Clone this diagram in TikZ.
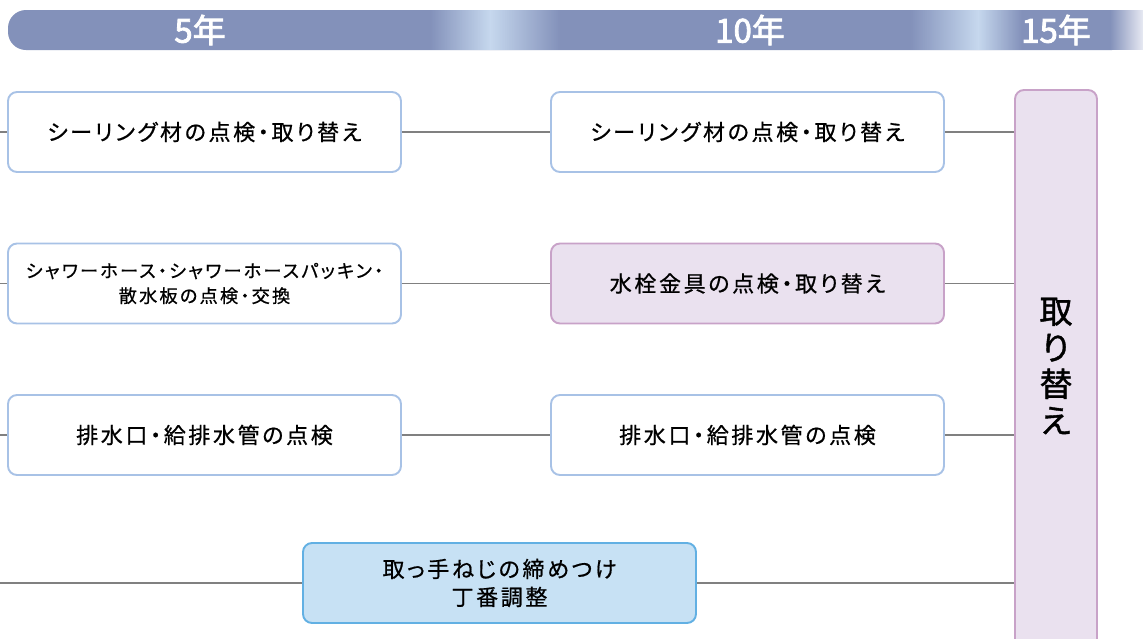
\documentclass[tikz,border=0pt]{standalone}
\usepackage{fontspec}
\setmainfont{Noto Sans CJK JP}[RawFeature=+palt, LetterSpace=12, FakeBold=0.7]
\newfontfamily\jphead{Noto Sans CJK JP}[FakeBold=2.5]
\newfontfamily\jpbig{Noto Sans CJK JP}[FakeBold=1.2]
\definecolor{barc}{HTML}{8391BA}
\definecolor{barl}{HTML}{C6D8EE}
\definecolor{barw}{HTML}{E8EAF3}
\definecolor{bluebd}{HTML}{A8C2E6}
\definecolor{purbd}{HTML}{C8A2C8}
\definecolor{purfill}{HTML}{EAE1EF}
\definecolor{skyfill}{HTML}{C7E1F4}
\definecolor{skybd}{HTML}{62B0E3}
\definecolor{linec}{HTML}{808080}
\tikzset{
  box/.style={draw=bluebd, fill=white, line width=1.9pt, rounded corners=9pt,
    minimum width=393pt, minimum height=80pt, inner sep=0pt, align=center,
    font=\fontsize{22}{26}\selectfont},
  pbox/.style={box, draw=purbd, fill=purfill},
  sbox/.style={box, draw=skybd, fill=skyfill, font=\fontsize{22}{28}\selectfont},
  conn/.style={draw=linec, line width=1.1pt},
  yr/.style={text=white, font=\jphead\fontsize{33}{36}\selectfont, inner sep=0pt}
}
\begin{document}
\begin{tikzpicture}[x=1pt,y=-1pt]
\useasboundingbox (0,0) rectangle (1143,638);
\clip (0,0) rectangle (1143,638);
% header bar
\fill[barc, rounded corners=18pt] (8,10) rectangle (1130,50);
\foreach \i in {0,...,59} {
  \pgfmathtruncatemacro\p{100*\i/60}
  \fill[barl!\p!barc] (430+\i,10) rectangle (431.2+\i,50);
}
\foreach \i in {0,...,69} {
  \pgfmathtruncatemacro\p{100-100*\i/70}
  \fill[barl!\p!barc] (490+\i,10) rectangle (491.2+\i,50);
}
\foreach \i in {0,...,67} {
  \pgfmathtruncatemacro\p{100*\i/68}
  \fill[barl!\p!barc] (910+\i,10) rectangle (911.2+\i,50);
}
\foreach \i in {0,...,43} {
  \pgfmathtruncatemacro\p{100-100*\i/44}
  \fill[barl!\p!barc] (978+\i,10) rectangle (979.2+\i,50);
}
\foreach \i in {0,...,32} {
  \pgfmathtruncatemacro\p{100*\i/33}
  \fill[barw!\p!barc] (1110+\i,10) rectangle (1111.2+\i,50);
}
\node[yr] (y5) at (200,30) {5年};
\node[yr] (y10) at (750,30) {10年};
\node[yr] (y15) at (1056,30) {15年};
% big box
\node[draw=purbd, fill=purfill, line width=1.9pt, rounded corners=9pt,
  minimum width=82pt, minimum height=562pt, inner sep=0pt] (big) at (1056,371) {};
\node[align=center, font=\jpbig\fontsize{33}{36.5}\selectfont] (bigt) at (1056,366) {取\\り\\替\\え};
% boxes
\node[box] (a1) at (204.5,132) {シーリング材の点検・取り替え};
\node[box] (b1) at (747.5,132) {シーリング材の点検・取り替え};
\node[box, font=\fontsize{18.2}{25}\selectfont] (a2) at (204.5,283.5) {シャワーホース・シャワーホースパッキン・\\散水板の点検・交換};
\node[pbox] (b2) at (747.5,283.5) {水栓金具の点検・取り替え};
\node[box] (a3) at (204.5,435) {排水口・給排水管の点検};
\node[box] (b3) at (747.5,435) {排水口・給排水管の点検};
\node[sbox] (c4) at (499.5,583) {取っ手ねじの締めつけ\\丁番調整};
% connectors
\coordinate (s1) at (0,132);
\coordinate (s2) at (0,283.5);
\coordinate (s3) at (0,435);
\coordinate (s4) at (0,583);
\draw[conn] (s1) -- (a1.west);
\draw[conn] (a1.east) -- (b1.west);
\draw[conn] (b1.east) -- (big.west |- b1.east);
\draw[conn] (s2) -- (a2.west);
\draw[conn] (a2.east) -- (b2.west);
\draw[conn] (b2.east) -- (big.west |- b2.east);
\draw[conn] (s3) -- (a3.west);
\draw[conn] (a3.east) -- (b3.west);
\draw[conn] (b3.east) -- (big.west |- b3.east);
\draw[conn] (s4) -- (c4.west);
\draw[conn] (c4.east) -- (big.west |- c4.east);
\end{tikzpicture}
\end{document}
